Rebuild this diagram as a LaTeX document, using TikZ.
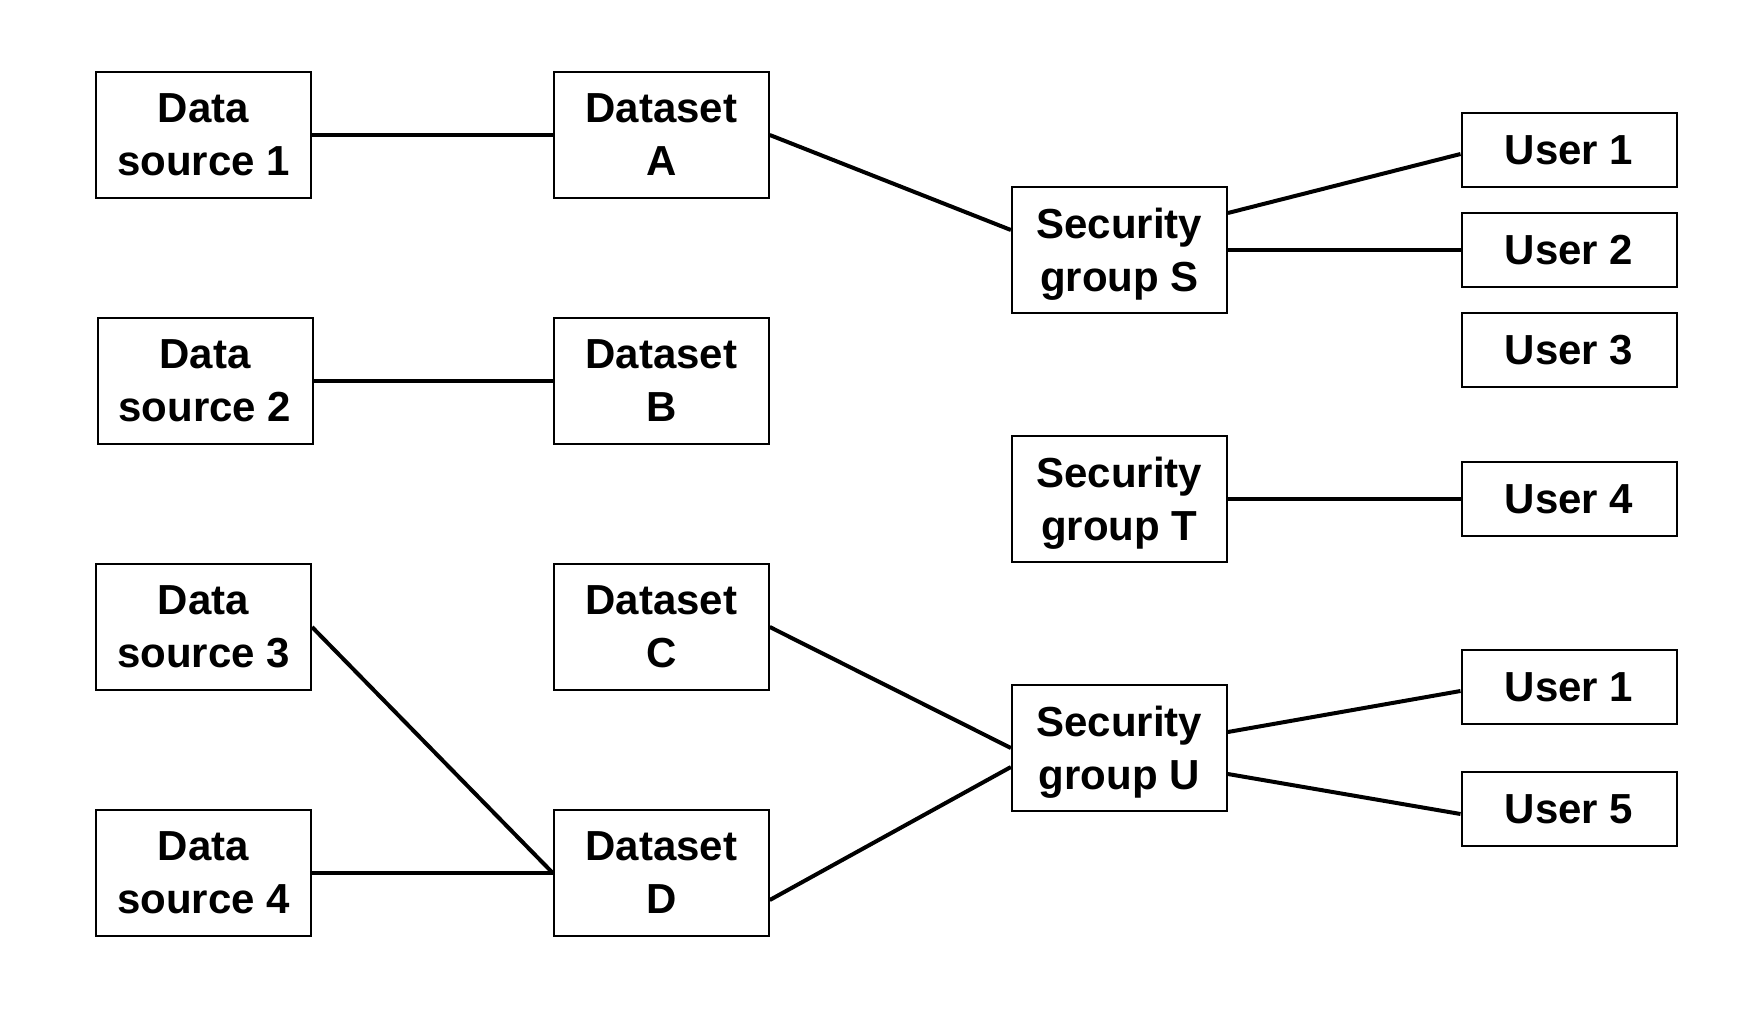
\documentclass[tikz,border=0pt]{standalone}
\usepackage{fontspec}
\setmainfont{Liberation Sans}
\usepackage{tikz}
\usetikzlibrary{positioning,calc}

\begin{document}
\begin{tikzpicture}[
    node distance=59pt,
    bigbox/.style={rectangle, draw, line width=1pt, minimum width=107.5pt, minimum height=63pt, align=center, text depth=-2.2pt, font=\fontsize{21}{26.5}\selectfont\bfseries},
    userbox/.style={rectangle, draw, line width=1pt, minimum width=107.5pt, minimum height=37pt, align=center, text depth=-2.2pt, font=\fontsize{21}{26.5}\selectfont\bfseries},
    link/.style={line width=2pt}
]
\useasboundingbox (0,0) rectangle (878pt,-506pt);

\node[bigbox] (ds1) at (101.75pt,-67.5pt) {Data\\source 1};
\node[bigbox, below=of ds1, xshift=0.75pt] (ds2) {Data\\source 2};
\node[bigbox, below=of ds2, xshift=-0.75pt] (ds3) {Data\\source 3};
\node[bigbox, below=of ds3] (ds4) {Data\\source 4};

\node[bigbox, right=120.4pt of ds1] (dsA) {Dataset\\A};
\node[bigbox, below=of dsA] (dsB) {Dataset\\B};
\node[bigbox, below=of dsB] (dsC) {Dataset\\C};
\node[bigbox, below=of dsC] (dsD) {Dataset\\D};

\node[bigbox] (secS) at (559.7pt,-125pt) {Security\\group S};
\node[bigbox, below=60.5pt of secS] (secT) {Security\\group T};
\node[bigbox, below=60.5pt of secT] (secU) {Security\\group U};

\node[userbox] (user1) at (784.5pt,-75pt) {User 1};
\node[userbox, below=12pt of user1] (user2) {User 2};
\node[userbox, below=12pt of user2] (user3) {User 3};
\node[userbox, below=36.5pt of user3] (user4) {User 4};
\node[userbox, below=56pt of user4] (user1b) {User 1};
\node[userbox, below=23pt of user1b] (user5) {User 5};

\draw[link] (ds1) -- (dsA);
\draw[link] (ds2.east) -- (dsB.west);
\draw[link] (ds3.east) -- (dsD.west);
\draw[link] (ds4) -- (dsD);
\draw[link] (dsA.east) -- ([yshift=10pt]secS.west);
\draw[link] (dsC.east) -- (secU.west);
\draw[link] ([yshift=-13.5pt]dsD.east) -- ([yshift=-9.5pt]secU.west);
\draw[link] ([yshift=18.5pt]secS.east) -- ([yshift=-2pt]user1.west);
\draw[link] (secS) -- (user2);
\draw[link] (secT) -- (user4);
\draw[link] ([yshift=8pt]secU.east) -- ([yshift=-2pt]user1b.west);
\draw[link] ([yshift=-13pt]secU.east) -- ([yshift=-2.5pt]user5.west);

\end{tikzpicture}
\end{document}
